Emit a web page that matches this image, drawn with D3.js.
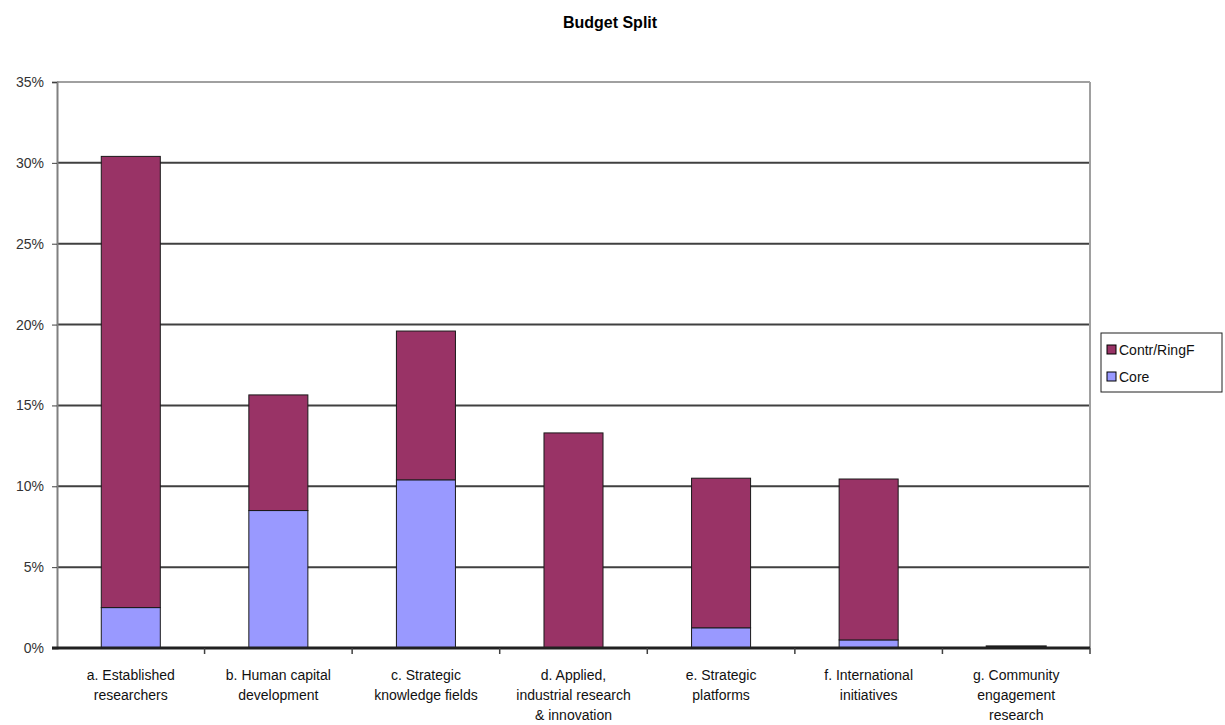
<!DOCTYPE html>
<html>
<head>
<meta charset="utf-8">
<script src="https://cdn.jsdelivr.net/npm/d3@7"></script>
<style>
  body { margin: 0; background: #fff; }
  text { font-family: Arial, "Liberation Sans", sans-serif; }
</style>
</head>
<body>
<div id="chart"></div>
<script>
// data (percent)
const categories = [
  ["a. Established", "researchers"],
  ["b. Human capital", "development"],
  ["c. Strategic", "knowledge fields"],
  ["d. Applied,", "industrial research", "& innovation"],
  ["e. Strategic", "platforms"],
  ["f. International", "initiatives"],
  ["g. Community", "engagement", "research"]
];
const coreValues = [2.5, 8.5, 10.4, 0, 1.25, 0.5, 0];
const contrValues = [27.9, 7.15, 9.2, 13.3, 9.25, 9.95, 0.1];
const seriesNames = ["Core", "Contr/RingF"];
const seriesColors = ["#9999ff", "#993366"];
const yTicks = [0, 5, 10, 15, 20, 25, 30, 35];

const width = 1225, height = 725;
const m = { left: 57, right: 1090, top: 82, bottom: 648 };

const svg = d3.select("#chart").append("svg")
  .attr("width", width).attr("height", height);

const x = d3.scaleBand()
  .domain(d3.range(categories.length))
  .range([m.left, m.right])
  .paddingInner(0.6).paddingOuter(0.3);
const band = (m.right - m.left) / categories.length;
const y = d3.scaleLinear().domain([0, 35]).range([m.bottom, m.top]);

svg.append("text")
  .attr("x", 610).attr("y", 28)
  .attr("text-anchor", "middle")
  .style("font-size", "16px").style("font-weight", "bold")
  .text("Budget Split");

// gridlines
svg.append("g").selectAll("line")
  .data(yTicks.filter(d => d > 0))
  .enter().append("line")
  .attr("x1", m.left).attr("x2", m.right)
  .attr("y1", d => y(d)).attr("y2", d => y(d))
  .attr("stroke", d => d === 35 ? "#a0a0a0" : "#404040")
  .attr("stroke-width", 2);

// right border
svg.append("line")
  .attr("x1", m.right).attr("x2", m.right)
  .attr("y1", m.top).attr("y2", m.bottom)
  .attr("stroke", "#a0a0a0").attr("stroke-width", 2);

// stacked bars
const rows = categories.map((c, i) => ({ i, Core: coreValues[i], "Contr/RingF": contrValues[i] }));
const stack = d3.stack().keys(seriesNames)(rows);

svg.append("g").selectAll("g")
  .data(stack)
  .enter().append("g")
  .attr("fill", (d, k) => seriesColors[k])
  .selectAll("rect")
  .data(d => d.filter(s => s[1] - s[0] > 0))
  .enter().append("rect")
  .attr("x", d => x(d.data.i))
  .attr("width", x.bandwidth())
  .attr("y", d => y(d[1]))
  .attr("height", d => Math.max(1, y(d[0]) - y(d[1])))
  .attr("stroke", "#1a1a1a")
  .attr("stroke-width", d => (y(d[0]) - y(d[1])) < 3 ? 2 : 1);

// y axis
const yAxis = svg.append("g")
  .attr("transform", `translate(${m.left},0)`)
  .call(d3.axisLeft(y).tickValues(yTicks).tickFormat(d => d + "%").tickSize(5).tickPadding(8));
yAxis.select(".domain").attr("stroke", "#808080").attr("stroke-width", 2);
yAxis.selectAll(".tick line").attr("stroke", "#404040");
yAxis.selectAll("text").style("font-size", "14px").attr("fill", "#333");

// x axis
svg.append("line")
  .attr("x1", m.left - 5).attr("x2", m.right)
  .attr("y1", m.bottom).attr("y2", m.bottom)
  .attr("stroke", "#202020").attr("stroke-width", 3);
svg.append("g").selectAll("line")
  .data(d3.range(1, categories.length + 1))
  .enter().append("line")
  .attr("x1", d => m.left + d * band).attr("x2", d => m.left + d * band)
  .attr("y1", m.bottom).attr("y2", m.bottom + 6)
  .attr("stroke", "#404040").attr("stroke-width", 1.5);

const xl = svg.append("g").selectAll("text")
  .data(categories)
  .enter().append("text")
  .attr("text-anchor", "middle")
  .attr("x", (d, i) => x(i) + x.bandwidth() / 2)
  .attr("y", 680)
  .style("font-size", "14px").attr("fill", "#111");
xl.selectAll("tspan")
  .data(d => d)
  .enter().append("tspan")
  .attr("x", function () { return this.parentNode.getAttribute("x"); })
  .attr("dy", (d, j) => j === 0 ? 0 : 20)
  .text(d => d);

// legend
const lg = svg.append("g").attr("transform", "translate(1101,333)");
lg.append("rect").attr("width", 121).attr("height", 59)
  .attr("fill", "#fff").attr("stroke", "#202020");
const legendItems = ["Contr/RingF", "Core"];
legendItems.forEach((name, k) => {
  const g = lg.append("g").attr("transform", `translate(6,${12 + k * 27})`);
  g.append("rect").attr("width", 9).attr("height", 9)
    .attr("fill", seriesColors[seriesNames.indexOf(name)]).attr("stroke", "#000");
  g.append("text").attr("x", 12).attr("y", 10)
    .style("font-size", "14px").attr("fill", "#111").text(name);
});
</script>
</body>
</html>
